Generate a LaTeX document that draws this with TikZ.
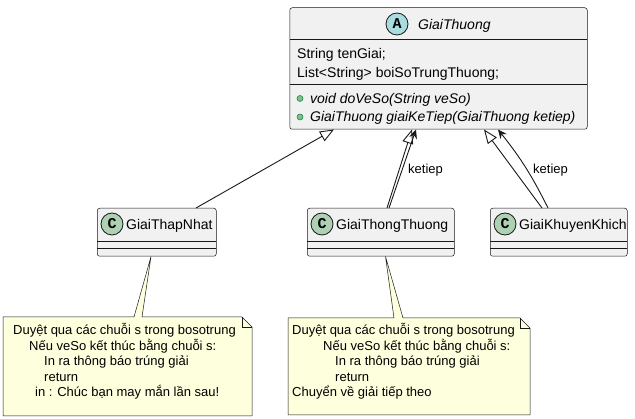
\documentclass[tikz,border=0pt]{standalone}
\usepackage{fontspec}
\setmainfont{Liberation Sans}
\newfontfamily\letterfont{Liberation Mono}
\usetikzlibrary{arrows.meta,calc}
\definecolor{clsfill}{HTML}{F1F1F1}
\definecolor{clsline}{HTML}{181818}
\definecolor{absfill}{HTML}{A9DCDF}
\definecolor{cfill}{HTML}{ADD1B2}
\definecolor{notefill}{HTML}{FEFFDD}
\definecolor{dotfill}{HTML}{84BE84}
\definecolor{dotline}{HTML}{038048}
\tikzset{
  cls/.style={draw=clsline, fill=clsfill, line width=0.5pt, rounded corners=2.5pt, inner sep=0pt},
  sep/.style={draw=clsline, line width=0.5pt},
  badge/.style={circle, draw=clsline, line width=0.8pt, minimum size=22pt, inner sep=0pt, font=\letterfont\bfseries\fontsize{15}{15}\selectfont},
  ctext/.style={inner sep=0pt, anchor=base west, font=\fontsize{14}{14}\selectfont},
  ntext/.style={inner sep=0pt, anchor=base west, font=\fontsize{13}{13}\selectfont},
  lbl/.style={inner sep=0pt, anchor=base west, font=\fontsize{13}{13}\selectfont},
  pubdot/.style={circle, draw=dotline, fill=dotfill, line width=0.5pt, minimum size=6pt, inner sep=0pt},
  inh/.style={draw=clsline, line width=0.9pt, -{Triangle[open, length=14pt, width=11pt]}},
  assoc/.style={draw=clsline, line width=0.9pt, -{Stealth[length=9pt, width=8pt, inset=3pt]}},
  notebox/.style={draw=clsline, fill=notefill, line width=0.5pt, line join=miter},
}
\begin{document}
\begin{tikzpicture}[x=1pt,y=-1pt]
\useasboundingbox (0,0) rectangle (635,419);

% abstract class GiaiThuong
\node[cls, minimum width=297.5pt, minimum height=121.5pt, anchor=north west] (gt) at (289.5,7.5) {};
\draw[sep] (289.5,39) -- (587,39);
\draw[sep] (289.5,84) -- (587,84);
\node[badge, fill=absfill] (gtbadge) at (397,24) {A};
\node[ctext, font=\fontsize{14}{14}\selectfont\itshape] (gtname) at (418,29.5) {GiaiThuong};
\node[ctext] (gtattr1) at (297,58.5) {String tenGiai;};
\node[ctext] (gtattr2) at (297,77.5) {List<String> boiSoTrungThuong;};
\node[pubdot] (gtdot1) at (300,98.5) {};
\node[pubdot] (gtdot2) at (300,117) {};
\node[ctext, font=\fontsize{14}{14}\selectfont\itshape] (gtm1) at (310,103.5) {void doVeSo(String veSo)};
\node[ctext, font=\fontsize{14}{14}\selectfont\itshape] (gtm2) at (310,122) {GiaiThuong giaiKeTiep(GiaiThuong ketiep)};

% GiaiThapNhat
\node[cls, minimum width=119pt, minimum height=48pt, anchor=north west] (tn) at (97,208) {};
\draw[sep] (97,241) -- (216,241);
\draw[sep] (97,248) -- (216,248);
\node[badge, fill=cfill] (tnbadge) at (112,224) {C};
\node[ctext] (tnname) at (126,229.5) {GiaiThapNhat};

% GiaiThongThuong
\node[cls, minimum width=147pt, minimum height=48pt, anchor=north west] (tt) at (307,208) {};
\draw[sep] (307,241) -- (454,241);
\draw[sep] (307,248) -- (454,248);
\node[badge, fill=cfill] (ttbadge) at (322,224) {C};
\node[ctext] (ttname) at (336,229.5) {GiaiThongThuong};

% GiaiKhuyenKhich
\node[cls, minimum width=137pt, minimum height=48pt, anchor=north west] (kk) at (490,208) {};
\draw[sep] (490,241) -- (627,241);
\draw[sep] (490,248) -- (627,248);
\node[badge, fill=cfill] (kkbadge) at (505,224) {C};
\node[ctext] (kkname) at (519,229.5) {GiaiKhuyenKhich};

% connectors
\coordinate (e1s) at ($(tn.north west)+(99,0)$);
\coordinate (e1t) at ($(gt.south west)+(44.5,0)$);
\draw[inh] (e1s) -- (e1t);

\coordinate (e2s) at ($(tt.north west)+(80,0)$);
\coordinate (e2t) at ($(gt.south west)+(122.5,0)$);
\draw[inh] (e2s) -- (e2t);
\coordinate (e3s) at ($(tt.north west)+(82,0)$);
\coordinate (e3t) at ($(gt.south west)+(126.5,0)$);
\draw[assoc] (e3s) -- (e3t);
\node[lbl] (lbl1) at (408,174) {ketiep};

\coordinate (e4s) at ($(kk.north west)+(52,0)$);
\coordinate (e4t) at ($(gt.south west)+(194.5,0)$);
\draw[inh] (e4s) -- (e4t);
\coordinate (e5s) at ($(kk.north west)+(58,0)$);
\coordinate (e5t) at ($(gt.south west)+(208.5,0)$);
\draw[assoc] (e5s) to[bend right=6] (e5t);
\node[lbl] (lbl2) at (533,174) {ketiep};

% note 1
\coordinate (n1apex) at ($(tn.south west)+(54,0)$);
\draw[notebox] (3,317) -- (134,317) -- (n1apex) -- (142,317) -- (242,317) -- (252,327) -- (252,416) -- (3,416) -- cycle;
\draw[notebox, fill=none] (242,317) -- (242,327) -- (252,327);
\node[ntext] (n1a) at (13,335) {Duyệt qua các chuỗi s trong bosotrung};
\node[ntext] (n1b) at (29,350.5) {Nếu veSo kết thúc bằng chuỗi s:};
\node[ntext] (n1c) at (44,366) {In ra thông báo trúng giải};
\node[ntext] (n1d) at (44,381.5) {return};
\node[ntext] (n1e) at (35,397) {in : Chúc bạn may mắn lần sau!};

% note 2
\coordinate (n2apex) at ($(tt.south west)+(78.5,0)$);
\draw[notebox] (288,318) -- (394,318) -- (n2apex) -- (403,318) -- (520,318) -- (530,328) -- (530,415) -- (288,415) -- cycle;
\draw[notebox, fill=none] (520,318) -- (520,328) -- (530,328);
\node[ntext] (n2a) at (292,335) {Duyệt qua các chuỗi s trong bosotrung};
\node[ntext] (n2b) at (323,350.5) {Nếu veSo kết thúc bằng chuỗi s:};
\node[ntext] (n2c) at (335,366) {In ra thông báo trúng giải};
\node[ntext] (n2d) at (335,381.5) {return};
\node[ntext] (n2e) at (292,397) {Chuyển về giải tiếp theo};
\end{tikzpicture}
\end{document}
